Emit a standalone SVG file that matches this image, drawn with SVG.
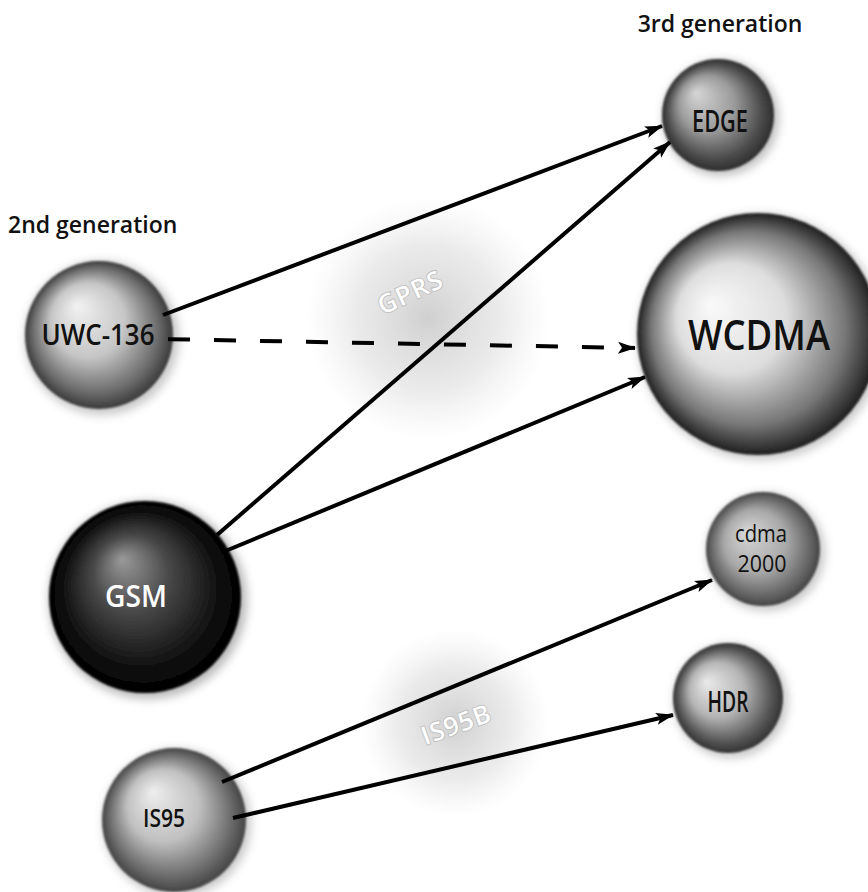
<svg xmlns="http://www.w3.org/2000/svg" width="868" height="892" viewBox="0 0 868 892">
<style>
.hd{font-family:"Open Sans","Noto Sans","Liberation Sans",sans-serif;font-size:23px;font-weight:600;fill:#111;}
.lb{font-family:"Open Sans","Noto Sans","Liberation Sans",sans-serif;font-weight:600;fill:#111;text-anchor:middle;}
.cl{font-family:"Open Sans","Noto Sans","Liberation Sans",sans-serif;font-weight:700;font-size:27px;fill:#fff;stroke:#bdbdbd;stroke-width:0.8;text-anchor:middle;}
.ln{fill:none;stroke:#000;stroke-width:4;marker-end:url(#ah);}
</style>
<defs>
<marker id="ah" markerUnits="userSpaceOnUse" markerWidth="18" markerHeight="14" refX="17" refY="7" orient="auto">
<path d="M0,1 L18,7 L0,13 L4,7 z" fill="#000"/>
</marker>
<filter id="soft" x="-20%" y="-20%" width="140%" height="140%"><feGaussianBlur stdDeviation="1.2"/></filter>
<filter id="halo" x="-30%" y="-30%" width="160%" height="160%"><feGaussianBlur stdDeviation="5"/></filter>
<radialGradient id="cloud" cx="0.5" cy="0.5" r="0.5">
<stop offset="0" stop-color="#c4c4c4" stop-opacity="0.8"/>
<stop offset="0.6" stop-color="#d2d2d2" stop-opacity="0.45"/>
<stop offset="1" stop-color="#e0e0e0" stop-opacity="0"/>
</radialGradient>
<radialGradient id="gUWC" cx="0.5" cy="0.5" r="0.5" fx="0.35" fy="0.3">
<stop offset="0" stop-color="#f2f2f2"/><stop offset="0.5" stop-color="#c6c6c6"/><stop offset="0.85" stop-color="#6a6a6a"/><stop offset="1" stop-color="#3a3a3a"/>
</radialGradient>
<radialGradient id="gEDGE" cx="0.5" cy="0.5" r="0.5" fx="0.3" fy="0.3">
<stop offset="0" stop-color="#d6d6d6"/><stop offset="0.5" stop-color="#9a9a9a"/><stop offset="0.85" stop-color="#4a4a4a"/><stop offset="1" stop-color="#2e2e2e"/>
</radialGradient>
<radialGradient id="gWCDMA" cx="0.5" cy="0.5" r="0.5" fx="0.3" fy="0.38">
<stop offset="0" stop-color="#fafafa"/><stop offset="0.45" stop-color="#dedede"/><stop offset="0.8" stop-color="#777"/><stop offset="1" stop-color="#1e1e1e"/>
</radialGradient>
<radialGradient id="gGSM" cx="0.5" cy="0.5" r="0.5" fx="0.38" fy="0.3">
<stop offset="0" stop-color="#9a9a9a"/><stop offset="0.4" stop-color="#484848"/><stop offset="0.8" stop-color="#111"/><stop offset="1" stop-color="#000"/>
</radialGradient>
<radialGradient id="gCDMA" cx="0.5" cy="0.5" r="0.5" fx="0.35" fy="0.35">
<stop offset="0" stop-color="#d8d8d8"/><stop offset="0.55" stop-color="#a8a8a8"/><stop offset="0.9" stop-color="#5e5e5e"/><stop offset="1" stop-color="#444"/>
</radialGradient>
<radialGradient id="gHDR" cx="0.5" cy="0.5" r="0.5" fx="0.3" fy="0.35">
<stop offset="0" stop-color="#eaeaea"/><stop offset="0.5" stop-color="#b4b4b4"/><stop offset="0.85" stop-color="#555"/><stop offset="1" stop-color="#333"/>
</radialGradient>
<radialGradient id="gIS95" cx="0.5" cy="0.5" r="0.5" fx="0.35" fy="0.3">
<stop offset="0" stop-color="#eeeeee"/><stop offset="0.5" stop-color="#c0c0c0"/><stop offset="0.85" stop-color="#6a6a6a"/><stop offset="1" stop-color="#444"/>
</radialGradient>
</defs>
<rect width="868" height="892" fill="#fff"/>

<g id="headings">
<text class="hd" x="720" y="32" text-anchor="middle">3rd generation</text>
<text class="hd" x="8" y="233">2nd generation</text>
</g>

<g id="GPRS">
<circle cx="428" cy="318" r="122" fill="url(#cloud)"/>
<text class="cl" x="410" y="302" transform="rotate(-25 410 293)">GPRS</text>
</g>
<g id="IS95B">
<circle cx="455" cy="723" r="94" fill="url(#cloud)"/>
<text class="cl" x="456" y="734" transform="rotate(-20 456 725)">IS95B</text>
</g>

<g id="UWC-136">
<circle cx="102" cy="338" r="77" fill="#888" opacity="0.45" filter="url(#halo)"/>
<circle cx="99" cy="335" r="74" fill="url(#gUWC)" filter="url(#soft)"/>
<text class="lb" x="98" y="345" font-size="28" textLength="113" lengthAdjust="spacingAndGlyphs">UWC-136</text>
</g>
<g id="GSM">
<circle cx="148" cy="600" r="99" fill="#666" opacity="0.45" filter="url(#halo)"/>
<circle cx="145" cy="597" r="96" fill="url(#gGSM)" filter="url(#soft)"/>
<text class="lb" x="136" y="607" font-size="30" style="fill:#fff" textLength="62" lengthAdjust="spacingAndGlyphs">GSM</text>
</g>
<g id="IS95">
<circle cx="177" cy="823" r="74" fill="#888" opacity="0.45" filter="url(#halo)"/>
<circle cx="174" cy="820" r="72" fill="url(#gIS95)" filter="url(#soft)"/>
<text class="lb" x="164" y="827" font-size="26" textLength="42" lengthAdjust="spacingAndGlyphs">IS95</text>
</g>
<g id="EDGE">
<circle cx="721" cy="118" r="58" fill="#777" opacity="0.45" filter="url(#halo)"/>
<circle cx="718" cy="115" r="56" fill="url(#gEDGE)" filter="url(#soft)"/>
<text class="lb" x="720" y="132" font-size="30" textLength="56" lengthAdjust="spacingAndGlyphs">EDGE</text>
</g>
<g id="WCDMA">
<circle cx="761" cy="337" r="123" fill="#888" opacity="0.45" filter="url(#halo)"/>
<circle cx="758" cy="334" r="121" fill="url(#gWCDMA)" filter="url(#soft)"/>
<text class="lb" x="759" y="350" font-size="42" textLength="142" lengthAdjust="spacingAndGlyphs">WCDMA</text>
</g>
<g id="cdma2000">
<circle cx="766" cy="552" r="59" fill="#888" opacity="0.45" filter="url(#halo)"/>
<circle cx="763" cy="549" r="57" fill="url(#gCDMA)" filter="url(#soft)"/>
<text class="lb" x="761" y="542" font-size="23" style="font-weight:400" textLength="52" lengthAdjust="spacingAndGlyphs">cdma</text>
<text class="lb" x="762" y="572" font-size="24" style="font-weight:400" textLength="49" lengthAdjust="spacingAndGlyphs">2000</text>
</g>
<g id="HDR">
<circle cx="731" cy="701" r="57" fill="#888" opacity="0.45" filter="url(#halo)"/>
<circle cx="728" cy="698" r="55" fill="url(#gHDR)" filter="url(#soft)"/>
<text class="lb" x="728" y="712" font-size="28" textLength="41" lengthAdjust="spacingAndGlyphs">HDR</text>
</g>

<g id="connectors">
<line class="ln" x1="163" y1="315" x2="662" y2="126"/>
<line class="ln" x1="160" y1="339" x2="635" y2="348" stroke-dasharray="22,24" stroke-dashoffset="-8"/>
<line class="ln" x1="217" y1="535" x2="670" y2="142" stroke-width="3.5"/>
<line class="ln" x1="223" y1="552" x2="645" y2="377" stroke-width="6"/>
<line class="ln" x1="222" y1="782" x2="712" y2="580"/>
<line class="ln" x1="233" y1="818" x2="673" y2="715"/>
</g>
</svg>
